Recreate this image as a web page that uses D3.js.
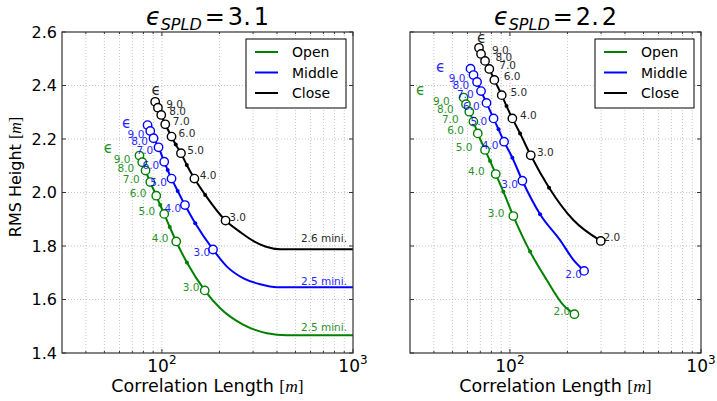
<!DOCTYPE html>
<html>
<head>
<meta charset="utf-8">
<script src="https://cdnjs.cloudflare.com/ajax/libs/d3/7.8.5/d3.min.js"></script>
<style>
  body { margin: 0; background: #fff; }
  text { font-family: "DejaVu Sans", sans-serif; }
  .grid line { stroke: #b8b8b8; stroke-width: 0.8; stroke-dasharray: 1,2; }
  .curve { fill: none; stroke-width: 2px; }
</style>
</head>
<body>
<div id="chart"></div>
<script>
// ---- data ----
// epsilon values of the open circles
var epsLeft = [10, 9, 8, 7, 6, 5, 4, 3];
var epsRight = [10, 9, 8, 7, 6, 5, 4, 3, 2];

// eps_SPLD = 3.1  (left panel), [corr length, rms height]
var openLeft   = [[76.3,2.138],[78.9,2.113],[82.1,2.082],[86.9,2.039],[93.4,1.988],[102.8,1.920],[118.8,1.817],[167.5,1.634]];
var middleLeft = [[84.1,2.252],[86.9,2.230],[90.4,2.203],[96.0,2.169],[102.8,2.115],[112.3,2.052],[132.0,1.953],[185.1,1.787]];
var closeLeft  = [[92.2,2.339],[95.3,2.317],[99.2,2.290],[104.1,2.255],[112.3,2.209],[125.8,2.147],[147.9,2.052],[215.3,1.895]];
var openLeftDots   = [[98.0,1.953],[109.9,1.871],[135.2,1.738]];
var middleLeftDots = [[107.2,2.084],[120.9,2.006],[149.4,1.885]];
var closeLeftDots  = [[118.1,2.179],[134.9,2.103],[168.5,1.991]];
// below eps = 3 the curves run to the minimum eps and stay flat
var openLeftTail   = [[201.9,1.567],[267.4,1.505],[354.6,1.474],[451,1.466],[1000,1.466]];
var middleLeftTail = [[218.9,1.723],[267.4,1.679],[327,1.657],[400,1.646],[1000,1.646]];
var closeLeftTail  = [[257,1.852],[300.6,1.819],[347.5,1.798],[416,1.788],[1000,1.788]];
var miniLabels = ["2.5 mini.", "2.5 mini.", "2.6 mini."];
var miniY = [1.498, 1.669, 1.831];

// eps_SPLD = 2.2  (right panel)
var openRight   = [[57.2,2.355],[58.9,2.330],[61.3,2.302],[64.4,2.265],[67.9,2.221],[74.1,2.159],[84.3,2.069],[104.2,1.912],[217.5,1.545]];
var middleRight = [[62.2,2.463],[64.5,2.439],[67.3,2.413],[70.6,2.379],[75.4,2.335],[82.1,2.277],[93.2,2.190],[116.2,2.044],[244.4,1.707]];
var closeRight  = [[68.9,2.541],[70.6,2.518],[74.1,2.492],[78.0,2.462],[82.9,2.421],[90.6,2.364],[103.0,2.277],[128.5,2.139],[298.9,1.819]];
var openRightDots   = [[78.7,2.118],[92.4,2.003],[127.5,1.779]];
var middleRightDots = [[87.2,2.236],[103.0,2.130],[143.8,1.919]];
var closeRightDots  = [[96.0,2.323],[113.0,2.221],[160.3,2.018]];
var openRightTail   = [[155.9,1.673],[190.5,1.579]];
var middleRightTail = [[183.0,1.822],[215,1.748]];
var closeRightTail  = [[214.8,1.897]];

var seriesNames = ["Open", "Middle", "Close"];
var yTicks = [1.4, 1.6, 1.8, 2.0, 2.2, 2.4, 2.6];
var xMajor = [100, 1000];
var xMinor = [40, 50, 60, 70, 80, 90, 200, 300, 400, 500, 600, 700, 800, 900];

// ---- layout ----
var W = 717, H = 401;
var plotTop = 32, plotBottom = 353, pw = 291;
var colors = ["#008000", "#0000ff", "#000000"];

var svg = d3.select("#chart").append("svg")
    .attr("width", W).attr("height", H);

var panels = [
  { left: 62, title: ["3.", "1"], eps: epsLeft,
    circles: [openLeft, middleLeft, closeLeft],
    dots: [openLeftDots, middleLeftDots, closeLeftDots],
    tails: [openLeftTail, middleLeftTail, closeLeftTail],
    epsOff: [[-31, -8], [-21, -2], [1, -12]], legendX: 246, legendW: 100, yLabels: true },
  { left: 410, title: ["2.", "2"], eps: epsRight,
    circles: [openRight, middleRight, closeRight],
    dots: [openRightDots, middleRightDots, closeRightDots],
    tails: [openRightTail, middleRightTail, closeRightTail],
    epsOff: [[-43, -7.5], [-30, -2], [2.7, -9.4]], legendX: 595, legendW: 99, yLabels: false }
];

// label placement per series: side, x shift in data units, y shift in px
var labelSide = [
  { anchor: "end",   dx: -10.5, dy: -3 },
  { anchor: "end",   dx: -6,    dy: 3 },
  { anchor: "start", dx: 10,    dy: -3.5 }
];

var y = d3.scaleLinear().domain([1.4, 2.6]).range([plotBottom, plotTop]);

panels.forEach(function(p) {
  var x = d3.scaleLog().domain([30, 1000]).range([p.left, p.left + pw]);
  var g = svg.append("g");

  // grid
  var grid = g.append("g").attr("class", "grid");
  grid.selectAll(".gx").data(xMinor.concat([100])).enter().append("line")
      .attr("x1", d => x(d)).attr("x2", d => x(d))
      .attr("y1", plotTop).attr("y2", plotBottom);
  grid.selectAll(".gy").data(yTicks.slice(1, -1)).enter().append("line")
      .attr("x1", p.left).attr("x2", p.left + pw)
      .attr("y1", d => y(d)).attr("y2", d => y(d));

  // ticks (inward, all four sides)
  var ticks = g.append("g").attr("stroke", "#333").attr("stroke-width", 1);
  yTicks.forEach(function(t) {
    ticks.append("line").attr("x1", p.left).attr("x2", p.left + 4).attr("y1", y(t)).attr("y2", y(t));
    ticks.append("line").attr("x1", p.left + pw - 4).attr("x2", p.left + pw).attr("y1", y(t)).attr("y2", y(t));
  });
  xMajor.forEach(function(t) {
    ticks.append("line").attr("x1", x(t)).attr("x2", x(t)).attr("y1", plotBottom).attr("y2", plotBottom - 4);
    ticks.append("line").attr("x1", x(t)).attr("x2", x(t)).attr("y1", plotTop).attr("y2", plotTop + 4);
  });
  xMinor.forEach(function(t) {
    ticks.append("line").attr("x1", x(t)).attr("x2", x(t)).attr("y1", plotBottom).attr("y2", plotBottom - 2);
    ticks.append("line").attr("x1", x(t)).attr("x2", x(t)).attr("y1", plotTop).attr("y2", plotTop + 2);
  });

  // curves
  p.circles.forEach(function(c, i) {
    var pts = c.concat(p.dots[i]).concat(p.tails[i]).sort((a, b) => a[0] - b[0]);
    var line = d3.line().x(d => x(d[0])).y(d => y(d[1])).curve(d3.curveMonotoneX);
    g.append("path").attr("class", "curve").attr("stroke", colors[i]).attr("d", line(pts));

    g.selectAll(null).data(p.dots[i]).enter().append("circle")
        .attr("cx", d => x(d[0])).attr("cy", d => y(d[1])).attr("r", 2)
        .attr("fill", colors[i]);

    g.selectAll(null).data(c).enter().append("circle")
        .attr("cx", d => x(d[0])).attr("cy", d => y(d[1])).attr("r", 4.2)
        .attr("fill", "#fff").attr("stroke", colors[i]).attr("stroke-width", 1.4);

    // value labels
    var ls = labelSide[i];
    c.forEach(function(d, k) {
      var e = p.eps[k];
      if (e === 10) {
        g.append("text")
            .attr("x", x(d[0]) + p.epsOff[i][0]).attr("y", y(d[1]) + p.epsOff[i][1])
            .attr("text-anchor", "middle").attr("dominant-baseline", "central")
            .attr("font-size", 15).attr("fill", colors[i]).attr("opacity", 0.85)
            .text("\u03f5");
        return;
      }
      g.append("text")
          .attr("x", x(d[0] + ls.dx)).attr("y", y(d[1]) + ls.dy)
          .attr("text-anchor", ls.anchor).attr("dominant-baseline", "central")
          .attr("font-size", 10.5).attr("fill", colors[i]).attr("opacity", 0.85)
          .text(d3.format(".1f")(e));
    });
  });

  // minimum-eps labels on the flat tails
  if (p.yLabels) {
    miniLabels.forEach(function(t, i) {
      g.append("text").attr("x", x(930)).attr("y", y(miniY[i]))
          .attr("text-anchor", "end").attr("dominant-baseline", "central")
          .attr("font-size", 10.5).attr("fill", colors[i]).attr("opacity", 0.85)
          .text(t);
    });
  }

  // frame
  g.append("rect").attr("x", p.left).attr("y", plotTop).attr("width", pw).attr("height", plotBottom - plotTop)
      .attr("fill", "none").attr("stroke", "#333").attr("stroke-width", 1.2);

  // legend
  var lg = g.append("g").attr("transform", "translate(" + p.legendX + ",39)");
  lg.append("rect").attr("width", p.legendW).attr("height", 69)
      .attr("fill", "#fff").attr("stroke", "#000").attr("stroke-width", 1);
  seriesNames.forEach(function(n, i) {
    var ly = 13 + i * 20.5;
    lg.append("line").attr("x1", 9).attr("x2", 32).attr("y1", ly).attr("y2", ly)
        .attr("stroke", colors[i]).attr("stroke-width", 2);
    lg.append("text").attr("x", 46).attr("y", ly).attr("dominant-baseline", "central")
        .attr("font-size", 14).text(n);
  });

  // x tick labels 10^2, 10^3
  xMajor.forEach(function(t) {
    var tx = g.append("text").attr("x", x(t)).attr("y", 372)
        .attr("text-anchor", "middle").attr("font-size", 17);
    tx.append("tspan").text("10");
    tx.append("tspan").attr("dy", -8).attr("font-size", 12).text(String(Math.log10(t)));
  });

  // y tick labels
  if (p.yLabels) {
    yTicks.forEach(function(t) {
      g.append("text").attr("x", 57).attr("y", y(t)).attr("dominant-baseline", "central")
          .attr("text-anchor", "end").attr("font-size", 16).text(d3.format(".1f")(t));
    });
  }

  // x axis label
  var xl = g.append("text").attr("x", p.left + pw / 2).attr("y", 392)
      .attr("text-anchor", "middle").attr("font-size", 17.5);
  xl.append("tspan").text("Correlation Length ");
  xl.append("tspan").attr("font-family", "Liberation Serif").text("[");
  xl.append("tspan").attr("font-family", "Liberation Serif").attr("font-style", "italic").text("m");
  xl.append("tspan").attr("font-family", "Liberation Serif").text("]");

  // title
  var tt = g.append("text").attr("x", p.left + pw / 2).attr("y", 25)
      .attr("text-anchor", "middle").attr("font-family", "Liberation Serif").attr("font-size", 24);
  tt.append("tspan").attr("font-style", "italic").text("\u03f5");
  tt.append("tspan").attr("font-style", "italic").attr("font-size", 16).attr("dy", 5).text("SPLD");
  tt.append("tspan").attr("dy", -5).attr("dx", 3).text("=");
  tt.append("tspan").attr("dx", 3).text(p.title[0]);
  tt.append("tspan").attr("dx", 3).text(p.title[1]);
});

// y axis label
var yl = svg.append("text").attr("transform", "translate(21,177) rotate(-90)")
    .attr("text-anchor", "middle").attr("font-size", 16);
yl.append("tspan").text("RMS Height ");
yl.append("tspan").attr("font-family", "Liberation Serif").text("[");
yl.append("tspan").attr("font-family", "Liberation Serif").attr("font-style", "italic").text("m");
yl.append("tspan").attr("font-family", "Liberation Serif").text("]");
</script>
</body>
</html>
